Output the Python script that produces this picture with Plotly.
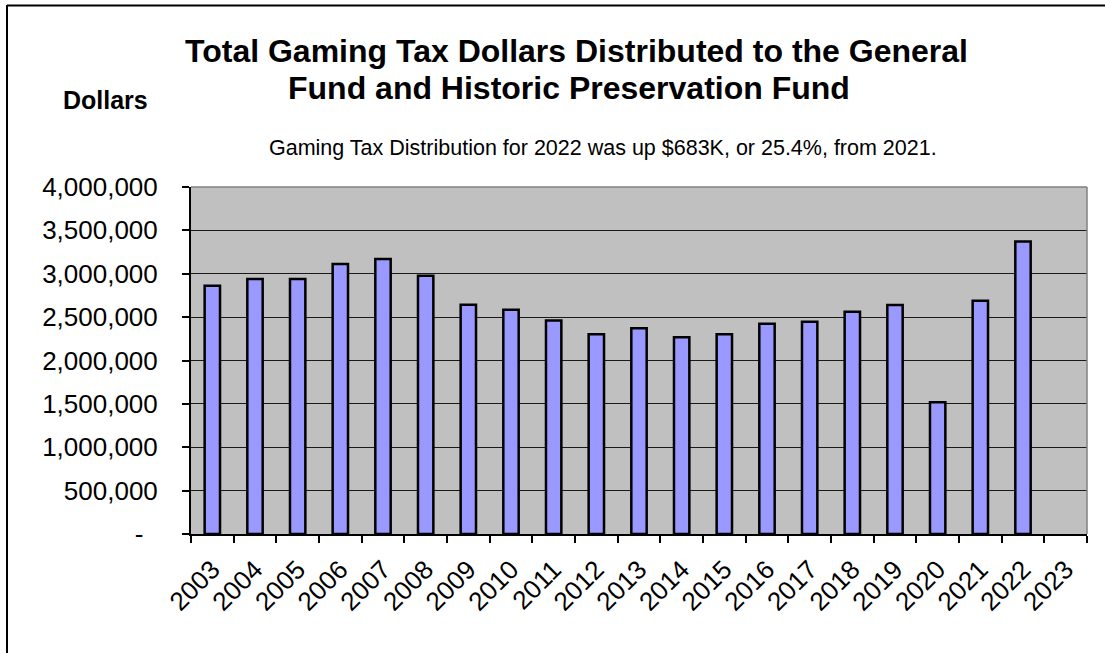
import plotly.graph_objects as go

# Gaming tax dollars distributed per year (2023 has no figure yet)
years = [str(y) for y in range(2003, 2024)]
distributed = [
    2862000, 2939000, 2939000, 3111000, 3169000, 2977000, 2642000,
    2585000, 2462000, 2304000, 2373000, 2269000, 2304000, 2424000,
    2448000, 2563000, 2640000, 1518000, 2688000, 3371000, None,
]

y_tick_values = [0, 500000, 1000000, 1500000, 2000000, 2500000, 3000000, 3500000, 4000000]
y_tick_labels = ["-\u00a0\u00a0", "500,000", "1,000,000", "1,500,000", "2,000,000",
                 "2,500,000", "3,000,000", "3,500,000", "4,000,000"]

title_line1 = "Total Gaming Tax Dollars Distributed to the General"
title_line2 = "Fund and Historic Preservation Fund"
axis_caption = "Dollars"
subtitle = "Gaming Tax Distribution for 2022 was up $683K, or 25.4%, from 2021."

W, H = 1105, 653
L, R, T, B = 191, 18, 187, 119
PW, PH = W - L - R, H - T - B


def px(x):
    return (x - L) / PW


def py(y):
    return (H - B - y) / PH


FONT = "Liberation Sans, Arial, sans-serif"

fig = go.Figure(
    go.Bar(
        x=years,
        y=distributed,
        width=0.36,
        marker=dict(color="#9999FF", line=dict(color="#000000", width=2.5)),
        hoverinfo="x+y",
    )
)

fig.update_layout(
    width=W,
    height=H,
    margin=dict(l=L, r=R, t=T, b=B, pad=0),
    paper_bgcolor="#FFFFFF",
    plot_bgcolor="#C0C0C0",
    showlegend=False,
    font=dict(family=FONT, color="#000000"),
)

fig.update_xaxes(
    type="category",
    categoryorder="array",
    categoryarray=years,
    tickson="boundaries",
    ticks="outside",
    ticklen=7,
    tickwidth=1.5,
    tickcolor="#000000",
    tickangle=-45,
    ticklabelstandoff=8,
    tickfont=dict(size=26, family=FONT, color="#000000"),
    showline=True,
    linecolor="#000000",
    linewidth=2,
    showgrid=False,
    range=[-0.5, len(years) - 0.5],
)

fig.update_yaxes(
    range=[0, 4000000],
    tickvals=y_tick_values,
    ticktext=y_tick_labels,
    ticks="outside",
    ticklen=7,
    tickwidth=1.5,
    tickcolor="#000000",
    ticklabelstandoff=19,
    tickfont=dict(size=26, family=FONT, color="#000000"),
    showline=True,
    linecolor="#000000",
    linewidth=2,
    showgrid=True,
    gridcolor="#1A1A1A",
    gridwidth=1.2,
    zeroline=False,
)

# Plot-area frame: grey top and right edges drawn over the gridlines
fig.add_shape(type="line", xref="paper", yref="paper", x0=0, x1=1, y0=1, y1=1,
              line=dict(color="#808080", width=1.5), layer="above")
fig.add_shape(type="line", xref="paper", yref="paper", x0=1, x1=1, y0=0, y1=1,
              line=dict(color="#808080", width=1.5), layer="above")

# Outer chart border (top and left)
fig.add_shape(type="line", xref="paper", yref="paper",
              x0=px(7), x1=px(1105), y0=py(5.5), y1=py(5.5),
              line=dict(color="#000000", width=2))
fig.add_shape(type="line", xref="paper", yref="paper",
              x0=px(7), x1=px(7), y0=py(5), y1=py(653),
              line=dict(color="#000000", width=2))

fig.add_annotation(text=f"<b>{title_line1}</b>", xref="paper", yref="paper",
                   x=px(576.5), y=py(51), xanchor="center", yanchor="middle",
                   showarrow=False, font=dict(size=32, family=FONT, color="#000000"))
fig.add_annotation(text=f"<b>{title_line2}</b>", xref="paper", yref="paper",
                   x=px(568.5), y=py(88), xanchor="center", yanchor="middle",
                   showarrow=False, font=dict(size=32, family=FONT, color="#000000"))
fig.add_annotation(text=f"<b>{axis_caption}</b>", xref="paper", yref="paper",
                   x=px(105.5), y=py(100), xanchor="center", yanchor="middle",
                   showarrow=False, font=dict(size=25, family=FONT, color="#000000"))
fig.add_annotation(text=subtitle, xref="paper", yref="paper",
                   x=px(603), y=py(148), xanchor="center", yanchor="middle",
                   showarrow=False, font=dict(size=21.5, family=FONT, color="#000000"))

fig.write_html("out.html")
